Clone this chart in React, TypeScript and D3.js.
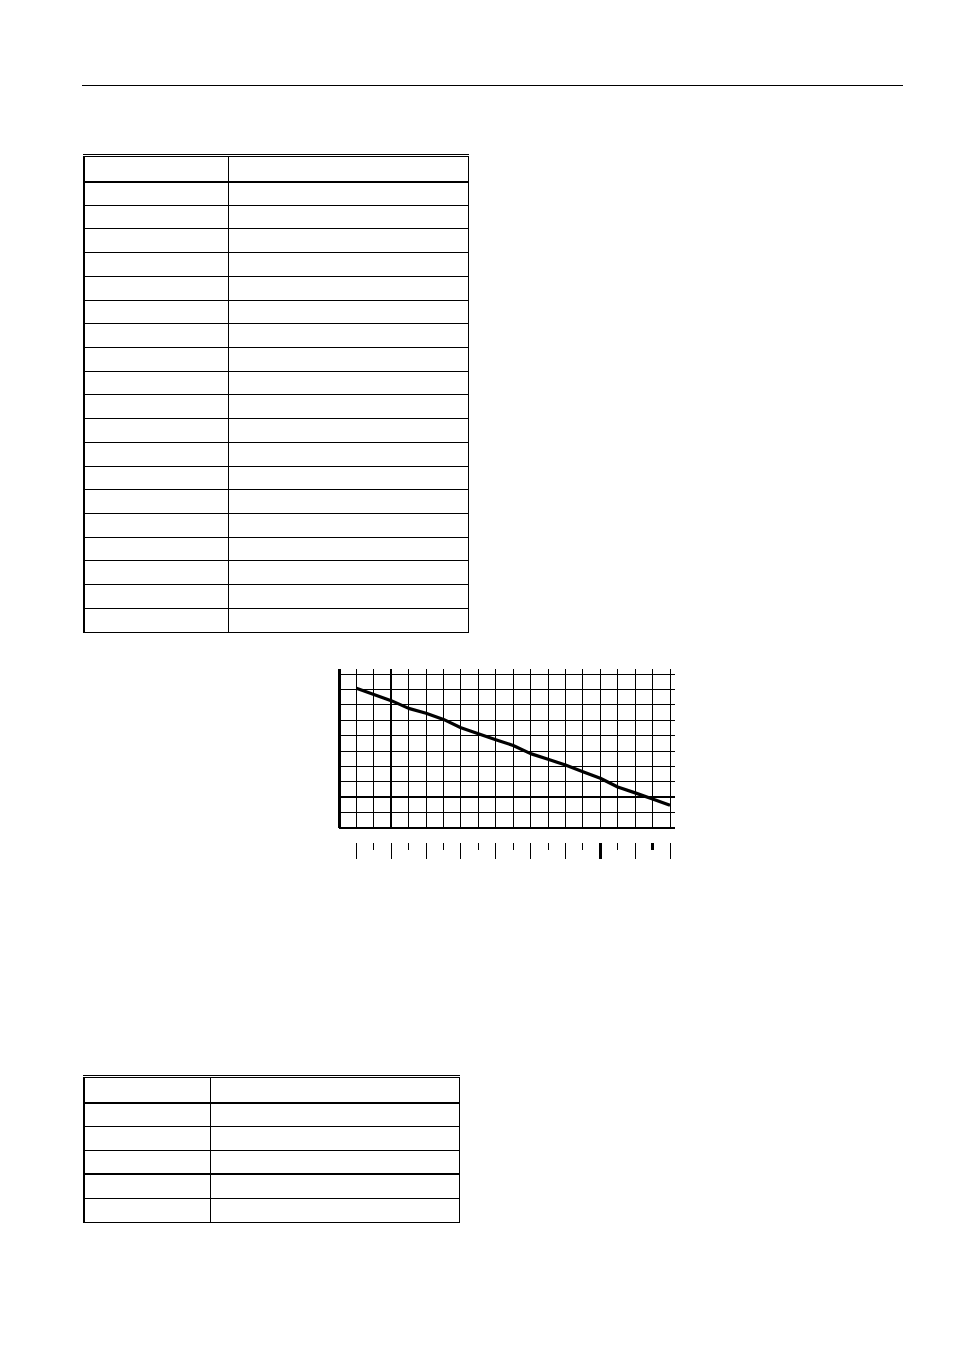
import React from "react";
import * as d3 from "d3";

// ---- chart data ----
const lineX: number[] = [-2, 0, 1, 2, 3, 4, 5, 6, 7, 8, 9, 10, 11, 12, 13, 14, 15, 16];
const lineY: number[] = [7.07, 6.27, 5.77, 5.45, 5.05, 4.51, 4.12, 3.73, 3.36, 2.83, 2.46, 2.09, 1.65, 1.23, 0.66, 0.28, -0.12, -0.53];
const gridX: number[] = d3.range(-3, 17); // vertical grid values
const gridY: number[] = d3.range(-2, 9); // horizontal grid values
const tickX: number[] = d3.range(-2, 17); // tick marks below the chart
const longTicks: number[] = [-2, 0, 2, 4, 6, 8, 10, 12, 14, 16];
const boldTicks: number[] = [12, 15];

// ---- table data ----
const table1Rows: number = 19;
const table2Rows: number = 5;
const table2BoldAfter: number[] = [3];

const W = 954;
const H = 1351;

// align a coordinate to the pixel grid for a given stroke width
const px = (v: number, w: number) => (w % 2 === 1 ? Math.round(v - 0.5) + 0.5 : Math.round(v));

function Table({
  left, divider, right, top, headerBottom, bottom, rows, boldAfter,
}: {
  left: number; divider: number; right: number; top: number; headerBottom: number;
  bottom: number; rows: number; boldAfter: number[];
}) {
  const y = d3.scaleLinear().domain([0, rows]).range([headerBottom, bottom]);
  const lines = d3.range(1, rows);
  return (
    <g shapeRendering="crispEdges">
      <line x1={left - 1.5} x2={right + 1} y1={px(top - 2.5, 1)} y2={px(top - 2.5, 1)} stroke="#000" strokeWidth={1} />
      <line x1={left - 1.5} x2={right + 1} y1={px(top - 0.6, 1)} y2={px(top - 0.6, 1)} stroke="#000" strokeWidth={1} />
      {lines.map((i) => {
        const w = boldAfter.includes(i) ? 2 : 1;
        return (
          <line key={i} x1={left} x2={right} y1={px(y(i), w)} y2={px(y(i), w)} stroke="#000" strokeWidth={w} />
        );
      })}
      <line x1={left} x2={right} y1={px(headerBottom, 2)} y2={px(headerBottom, 2)} stroke="#000" strokeWidth={2} />
      <line x1={left - 1} x2={right + 1} y1={px(bottom, 1)} y2={px(bottom, 1)} stroke="#000" strokeWidth={1} />
      <line x1={px(left, 2)} x2={px(left, 2)} y1={top} y2={bottom} stroke="#000" strokeWidth={2} />
      <line x1={px(divider, 1)} x2={px(divider, 1)} y1={top} y2={bottom} stroke="#000" strokeWidth={1} />
      <line x1={px(right, 1)} x2={px(right, 1)} y1={top} y2={bottom} stroke="#000" strokeWidth={1} />
    </g>
  );
}

export default function App() {
  const x = d3.scaleLinear().domain([-3, 16]).range([339, 670]);
  const y = d3.scaleLinear().domain([-2, 8]).range([828, 674]);
  const line = d3.line<number>().x((_, i) => x(lineX[i])).y((d) => y(d));
  const top = 669;
  const rightEnd = 674.5;

  return (
    <svg width={W} height={H} style={{ position: "absolute", left: 0, top: 0, background: "#fff" }}>
      <rect x={0} y={0} width={W} height={H} fill="#fff" />
      {/* page header rule */}
      <line x1={82} x2={903} y1={85.5} y2={85.5} stroke="#000" strokeWidth={1} shapeRendering="crispEdges" />

      <Table left={84} divider={228} right={468} top={157} headerBottom={181.5} bottom={632}
        rows={table1Rows} boldAfter={[]} />

      {/* chart grid */}
      <g shapeRendering="crispEdges">
        {gridX.map((v) => {
          const w = v === -3 ? 3 : v === 0 ? 2 : 1;
          return (
            <line key={"vx" + v} x1={px(x(v), w)} x2={px(x(v), w)} y1={top} y2={y(-2)} stroke="#000" strokeWidth={w} />
          );
        })}
        {gridY.map((v) => {
          const w = v === -2 || v === 0 ? 2 : 1;
          return (
            <line key={"hy" + v} x1={x(-3)} x2={rightEnd} y1={px(y(v), w)} y2={px(y(v), w)} stroke="#000" strokeWidth={w} />
          );
        })}
        {tickX.map((v) => {
          const long = longTicks.includes(v);
          const w = boldTicks.includes(v) ? 3 : 1;
          return (
            <line key={"t" + v} x1={px(x(v), w)} x2={px(x(v), w)} y1={843} y2={long ? 858.5 : 849.5}
              stroke="#000" strokeWidth={w} />
          );
        })}
      </g>
      <path d={line(lineY) || ""} fill="none" stroke="#000" strokeWidth={3.2} strokeLinejoin="round" />

      <Table left={84} divider={210} right={459} top={1078} headerBottom={1102.7} bottom={1222.3}
        rows={table2Rows} boldAfter={table2BoldAfter} />
    </svg>
  );
}
